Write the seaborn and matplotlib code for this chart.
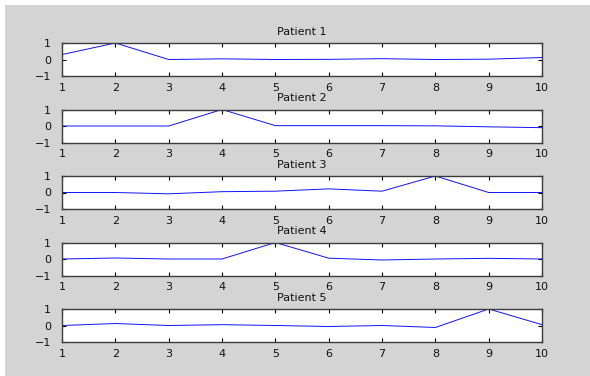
import matplotlib
matplotlib.use("Agg")
import matplotlib.pyplot as plt
from matplotlib.patches import Rectangle
import numpy as np
import pandas as pd
import seaborn as sns

# Sample index shared by all patients
samples = [1, 2, 3, 4, 5, 6, 7, 8, 9, 10]

# Normalised response per patient
patient_1 = [0.30, 1.00, 0.00, 0.04, 0.00, 0.01, 0.05, 0.00, 0.02, 0.12]
patient_2 = [0.00, 0.00, 0.00, 1.00, 0.02, 0.02, 0.02, 0.01, -0.05, -0.10]
patient_3 = [0.00, 0.00, -0.08, 0.05, 0.08, 0.22, 0.08, 1.00, 0.00, 0.00]
patient_4 = [0.00, 0.06, 0.00, 0.00, 1.00, 0.05, -0.06, 0.00, 0.04, 0.00]
patient_5 = [0.00, 0.12, 0.00, 0.05, 0.00, -0.06, 0.00, -0.12, 1.00, 0.05]

names = ["Patient 1", "Patient 2", "Patient 3", "Patient 4", "Patient 5"]
series = [patient_1, patient_2, patient_3, patient_4, patient_5]
x_ticks = [1, 2, 3, 4, 5, 6, 7, 8, 9, 10]
y_ticks = [-1, 0, 1]

sns.set_theme(style="white")
plt.rcParams["font.family"] = ["DejaVu Sans"]

W, H = 590, 376
fig = plt.figure(figsize=(W / 100, H / 100), dpi=100)
fig.patch.set_facecolor("white")
fig.add_artist(Rectangle((5 / W, 0), 1, 1 - 5 / H, transform=fig.transFigure,
                         facecolor="#d4d4d4", edgecolor="none", zorder=-10))

left, right = 62, 542
top0, ax_h, step = 43, 33, 66.5
frame = "#3c3c3c"

for i, (name, vals) in enumerate(zip(names, series)):
    top = top0 + i * step
    ax = fig.add_axes([left / W, (H - top - ax_h) / H, (right - left) / W, ax_h / H])
    df = pd.DataFrame({"sample": samples, "value": vals})
    sns.lineplot(data=df, x="sample", y="value", ax=ax, color="#1010ff",
                 linewidth=0.7, estimator=None)
    ax.set_facecolor("white")
    ax.set_xlim(1, 10)
    ax.set_ylim(-1, 1)
    ax.set_xticks(x_ticks)
    ax.set_yticks(y_ticks)
    ax.set_xlabel("")
    ax.set_ylabel("")
    ax.set_title(name, fontsize=8, color="#111111", pad=6)
    ax.tick_params(axis="both", direction="in", length=3, width=0.8, color="black",
                   labelsize=8, labelcolor="#111111", top=True, right=True,
                   bottom=True, left=True)
    ax.tick_params(axis="x", pad=5)
    ax.tick_params(axis="y", pad=8)
    for sp in ax.spines.values():
        sp.set_visible(True)
        sp.set_color(frame)
        sp.set_linewidth(1.0)

fig.savefig("out.png", dpi=100, facecolor=fig.get_facecolor())
